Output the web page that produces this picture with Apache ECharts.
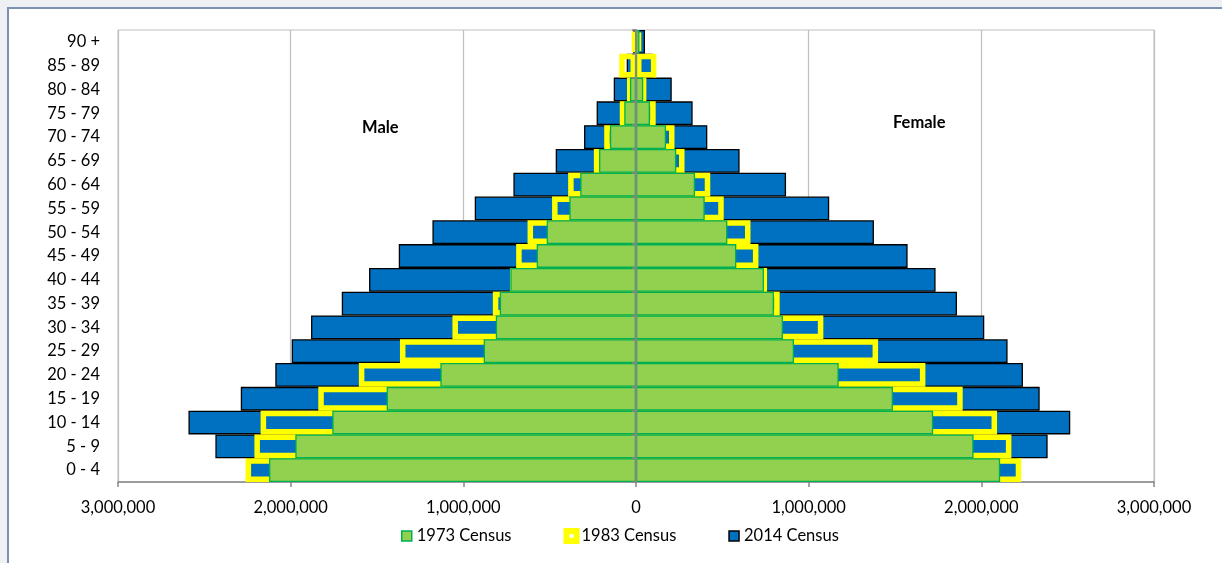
<!DOCTYPE html>
<html>
<head>
<meta charset="utf-8">
<script src="https://cdn.jsdelivr.net/npm/echarts@6/dist/echarts.min.js"></script>
<style>
  html, body { margin: 0; padding: 0; width: 1222px; height: 563px; overflow: hidden; background: #eef0f4; }
  #frame { position: absolute; left: 7px; top: 7px; width: 1230px; height: 570px; background: #ffffff; border-left: 2px solid #7d8fb3; border-top: 2px solid #7d8fb3; box-sizing: border-box; }
  #chart { position: absolute; left: 0; top: 0; width: 1222px; height: 563px; }
</style>
</head>
<body>
<div id="frame"></div>
<div id="chart"></div>
<script>
const categories = ['0 - 4','5 - 9','10 - 14','15 - 19','20 - 24','25 - 29','30 - 34','35 - 39','40 - 44','45 - 49','50 - 54','55 - 59','60 - 64','65 - 69','70 - 74','75 - 79','80 - 84','85 - 89','90 +'];
const seriesNames = ['1973 Census', '1983 Census', '2014 Census'];
const xTicks = [-3000000, -2000000, -1000000, 0, 1000000, 2000000, 3000000];

const male1973   = [2125000, 1973000, 1759000, 1444000, 1133000, 882000, 812000, 789000, 728000, 575000, 517000, 386000, 323000, 214000, 151000, 68000, 35000, 5000, 3000];
const female1973 = [2109000, 1955000, 1721000, 1488000, 1174000, 915000, 851000, 799000, 741000, 581000, 529000, 398000, 342000, 233000, 174000, 81000, 42000, 6000, 20000];
const male1983   = [2261000, 2210000, 2174000, 1840000, 1605000, 1367000, 1063000, 829000, 730000, 694000, 628000, 486000, 393000, 244000, 184000, 94000, 52000, 97000, 17000];
const female1983 = [2231000, 2174000, 2091000, 1892000, 1676000, 1402000, 1085000, 832000, 759000, 709000, 663000, 508000, 430000, 281000, 223000, 114000, 60000, 118000, 29000];
const male2014   = [2258000, 2436000, 2592000, 2289000, 2089000, 1994000, 1882000, 1704000, 1546000, 1374000, 1179000, 934000, 710000, 465000, 301000, 228000, 129000, 54000, 17000];
const female2014 = [2214000, 2384000, 2515000, 2338000, 2241000, 2152000, 2017000, 1859000, 1735000, 1573000, 1378000, 1119000, 869000, 600000, 413000, 328000, 207000, 98000, 52000];

const FONT = 'Lato';
const styles = {
  '2014 Census': { color: '#0070c0', borderColor: '#000000', borderWidth: 1.3 },
  '1983 Census': { color: 'rgba(0,0,0,0)', borderColor: '#ffff00', borderWidth: 5.5 },
  '1973 Census': { color: '#92d050', borderColor: '#00b050', borderWidth: 1.3 }
};

function makeSeries(name, values, sign, stack) {
  return {
    name: name,
    type: 'bar',
    stack: stack,
    yAxisIndex: 0,
    barGap: '-100%',
    barCategoryGap: '0%',
    data: values.map(v => sign * v),
    itemStyle: styles[name],
    emphasis: { disabled: true },
    animation: false
  };
}

const series = [
  makeSeries('2014 Census', male2014, -1, 's2014'),
  makeSeries('2014 Census', female2014, 1, 's2014'),
  makeSeries('1983 Census', male1983, -1, 's1983'),
  makeSeries('1983 Census', female1983, 1, 's1983'),
  makeSeries('1973 Census', male1973, -1, 's1973'),
  makeSeries('1973 Census', female1973, 1, 's1973')
];

const chart = echarts.init(document.getElementById('chart'), null, { renderer: 'canvas' });
chart.setOption({
  animation: false,
  backgroundColor: 'transparent',
  textStyle: { fontFamily: FONT },
  grid: { left: 118, right: 68, top: 30, bottom: 81, show: true, borderColor: '#bfbfbf', borderWidth: 1, containLabel: false },
  xAxis: {
    type: 'value',
    min: xTicks[0],
    max: xTicks[xTicks.length - 1],
    interval: 1000000,
    axisLine: { show: true, onZero: false, lineStyle: { color: '#868686', width: 1.5 } },
    axisTick: { show: true, inside: false, length: 5, lineStyle: { color: '#868686', width: 1.5 } },
    splitLine: { show: true, lineStyle: { color: '#c0c0c0', width: 1.3 } },
    axisLabel: {
      margin: 17,
      color: '#000000',
      fontFamily: FONT,
      fontSize: 16.5,
      formatter: v => Math.abs(v).toLocaleString('en-US')
    }
  },
  yAxis: [
    {
      type: 'category',
      data: categories,
      axisLine: { show: false, onZero: false },
      axisTick: { show: false },
      axisLabel: { margin: 18, color: '#000000', fontFamily: FONT, fontSize: 16.5 },
      splitLine: { show: false }
    },
    {
      type: 'category',
      data: categories,
      position: 'left',
      z: 10,
      axisLine: { show: true, onZero: true, lineStyle: { color: '#868686', width: 2 } },
      axisTick: { show: true, length: 4, lineStyle: { color: '#868686', width: 1.5 } },
      axisLabel: { show: false },
      splitLine: { show: false }
    }
  ],
  legend: {
    left: 396,
    top: 521,
    icon: 'rect',
    itemWidth: 10,
    itemHeight: 10,
    itemGap: 52,
    textStyle: { fontFamily: FONT, fontSize: 16.5, color: '#000000', lineHeight: 20 },
    selectedMode: false,
    data: [
      { name: '1973 Census', itemStyle: { color: '#92d050', borderColor: '#00b050', borderWidth: 1.5 } },
      { name: '1983 Census', itemStyle: { color: '#ffffff', borderColor: '#ffff00', borderWidth: 6 } },
      { name: '2014 Census', itemStyle: { color: '#0070c0', borderColor: '#000000', borderWidth: 1.5 } }
    ]
  },
  graphic: [
    { type: 'text', left: 362, top: 119, style: { text: 'Male', font: 'bold 16.5px ' + FONT, fill: '#000000' } },
    { type: 'text', left: 893, top: 114, style: { text: 'Female', font: 'bold 16.5px ' + FONT, fill: '#000000' } }
  ],
  series: series
});
</script>
</body>
</html>
